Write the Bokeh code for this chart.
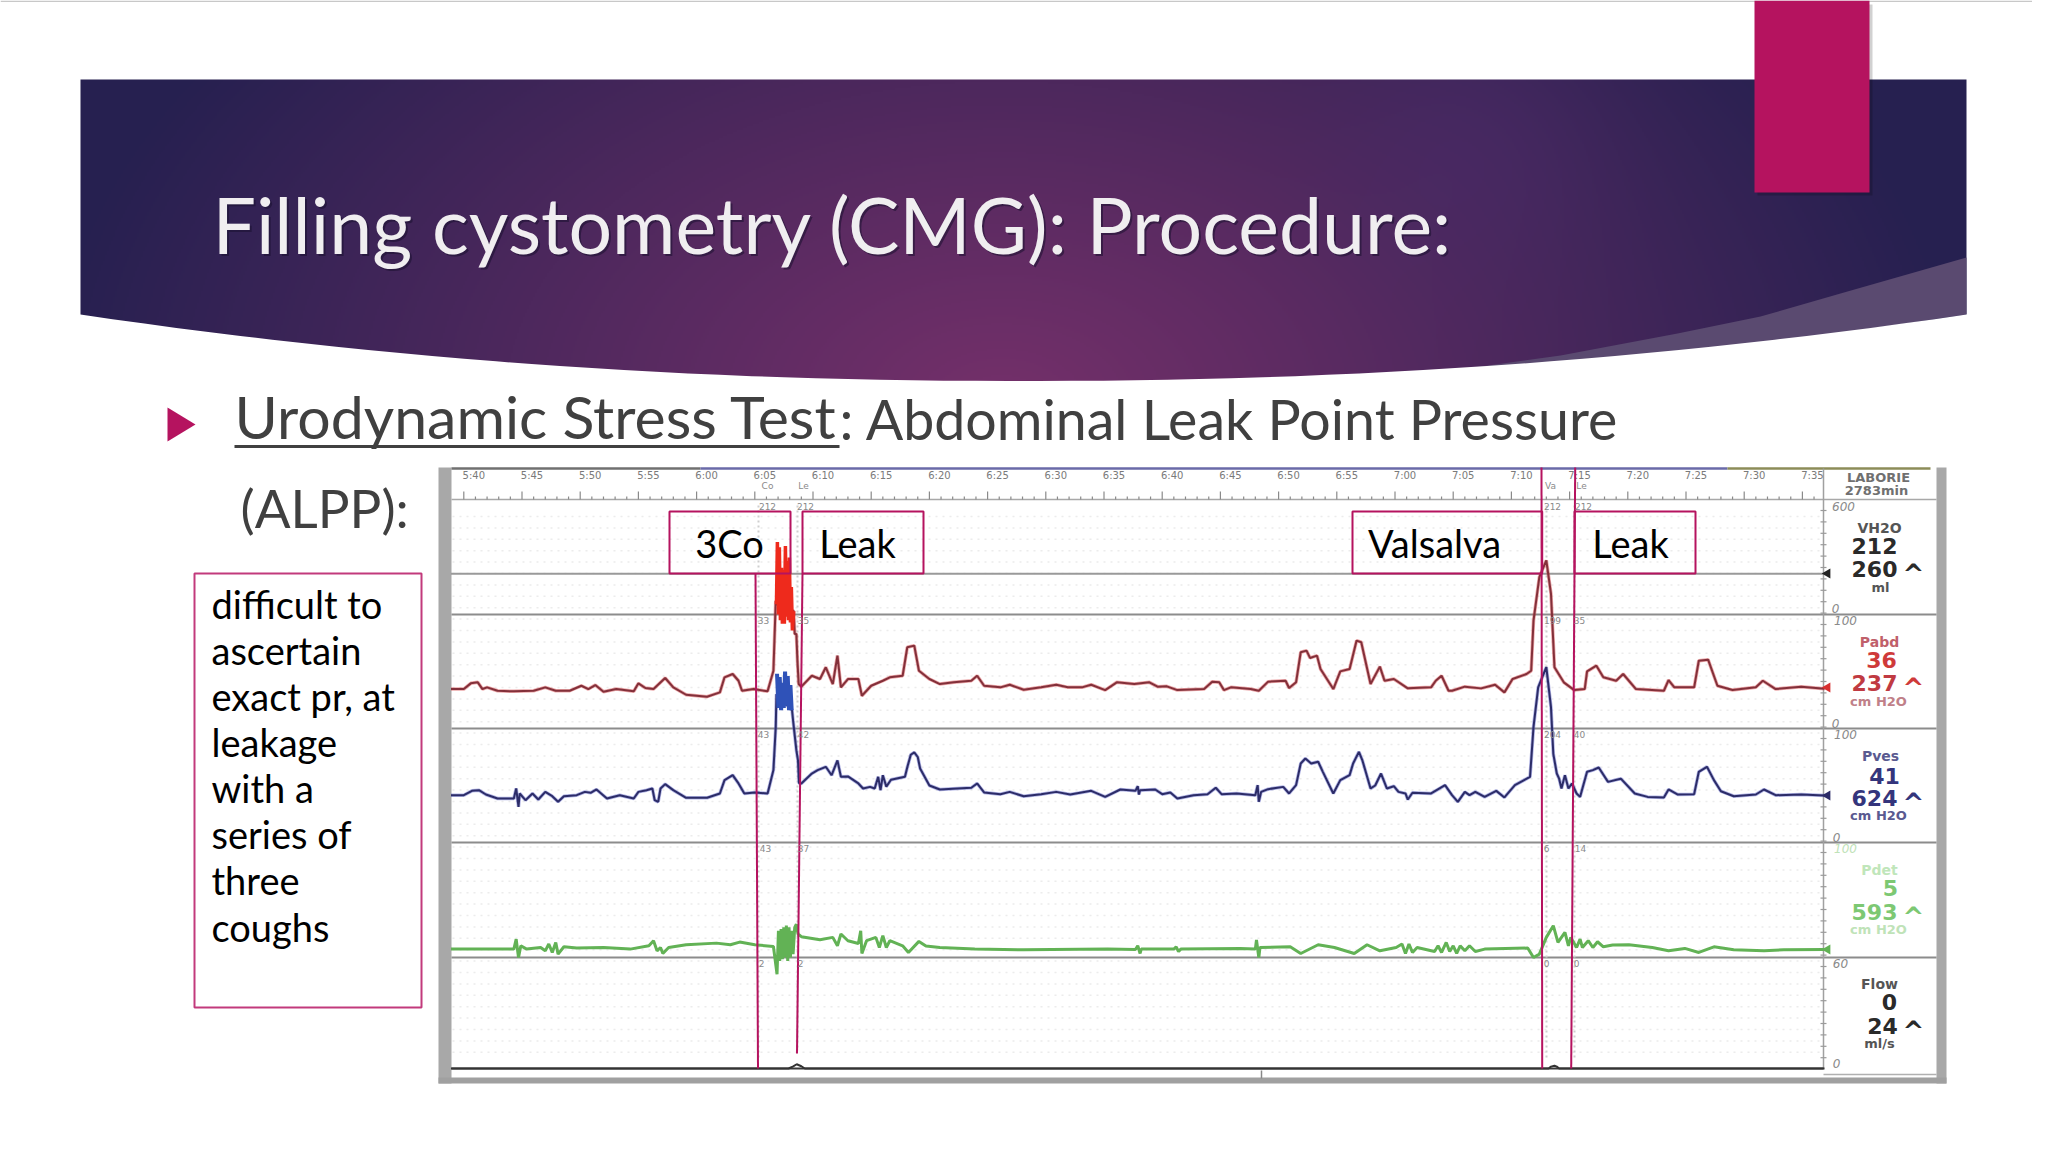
from bokeh.plotting import figure
from bokeh.models import Range1d
from bokeh.core.properties import value
from bokeh.embed import file_html
from bokeh.resources import INLINE
import numpy as np

# ---------- chart data ----------
tick_labels = ["5:40","5:45","5:50","5:55","6:00","6:05","6:10","6:15","6:20","6:25","6:30","6:35",
               "6:40","6:45","6:50","6:55","7:00","7:05","7:10","7:15","7:20","7:25","7:30","7:35"]
tick_minutes = [340,345,350,355,360,365,370,375,380,385,390,395,400,405,410,415,420,425,430,435,440,445,450,455]

vh2o_t = [338.9, 456.9]
vh2o_v = [212, 212]

pabd_t = [338.9,340.0,340.6,341.2,341.6,342.0,342.9,344.3,346.0,347.0,347.9,349.1,350.1,350.7,351.3,352.0,353.1,354.6,355.0,355.6,356.3,357.3,358.0,359.1,360.9,362.0,362.4,363.1,363.6,363.9,364.9,366.1,366.6,366.8,366.86,368.34,368.43,368.57,368.66,368.77,
 369.0,369.9,370.6,371.1,371.7,372.1,372.4,373.0,373.9,374.2,375.0,376.0,376.6,377.7,378.1,378.7,379.1,380.0,380.9,
 382.1,383.6,384.1,384.7,386.1,386.9,388.1,389.6,390.9,391.9,393.1,393.9,395.1,396.1,397.6,398.9,399.6,400.4,401.3,403.6,404.3,404.9,405.3,405.9,407.6,408.3,409.1,410.6,410.9,411.5,411.9,412.4,412.7,413.3,413.6,414.7,415.3,416.1,416.7,417.1,417.9,418.7,419.1,419.9,421.1,423.1,423.5,424.0,424.6,424.9,
 426.0,427.4,428.6,429.4,430.1,431.3,431.7,431.9,432.4,433.0,433.4,433.7,434.5,435.4,436.3,436.5,437.3,437.9,439.0,439.6,440.7,443.1,443.5,444.0,445.7,446.1,446.9,447.7,449.0,451.0,451.6,452.7,454.9,456.9]
pabd_v = [34.6,34.6,39.6,40.5,34.6,36.1,33.1,32.6,33.1,36.1,33.1,33.1,37.5,34.6,38.1,32.3,34.6,32.6,39.6,35.5,34.6,44.3,36.1,29.6,27.9,31.7,44.9,47.8,41.9,33.1,34.6,32.6,50.7,112,109,103,83,83,60,39,
 36.7,46.3,43.4,53.7,39,63.9,36.1,43.4,43.4,28.7,37.5,41.9,44.9,46.3,71.3,72.7,50.7,43.4,39,
 40.5,41.9,46.3,37.5,36.1,38.4,34,36.1,38.4,36.1,36.1,38.4,33.7,40.5,39,40.5,36.7,37,33.7,34.6,41.1,40.5,33.7,36.1,34.6,33.1,41.1,41.9,35.5,40.5,66.9,68.3,61.9,63.9,52.2,34.6,50.1,52.2,77.1,75.7,39,54.3,41.9,43.4,35.2,36.1,41.9,46.3,33.1,33.1,
 36.7,35.2,38.4,31.7,43.4,47.8,50.7,94.7,132.8,147.5,118.2,53.7,40.5,33.7,34.6,50.1,55.1,44.9,41.9,47.8,34.6,33.1,42.5,36.1,36.1,59.5,60.4,37.5,33.7,36.1,41.9,34.6,36.7,34.9]

pabd_cough_t = [366.86,366.94,367.03,367.11,367.2,367.29,367.37,367.46,367.54,367.63,367.71,367.8,367.89,367.97,368.06,368.14,368.23,368.34]
pabd_cough_v = [109,163.6,100,159,95,141,92,139,92,160,98,147,95,150,93,124,86,103]

pves_t = [338.9,340.0,340.7,341.3,341.9,342.9,344.3,344.5,344.7,344.8,345.3,345.9,346.4,347.0,347.6,348.1,348.6,349.7,350.4,350.9,351.4,352.3,353.4,354.6,355.0,355.7,356.2,356.4,356.7,356.9,357.3,358.0,359.1,360.9,362.0,362.4,363.1,363.6,364.1,365.0,366.1,366.6,366.8,366.86,368.2,368.29,368.57,368.71,368.8,
 369.0,369.9,370.4,371.1,371.6,372.1,372.4,373.0,373.9,374.3,374.9,375.3,375.6,375.8,376.0,376.3,376.7,377.9,378.1,378.4,378.7,379.0,379.2,380.0,380.9,
 382.4,383.6,384.1,384.7,386.1,386.9,388.1,389.6,390.9,392.1,393.9,395.1,396.4,397.7,397.9,398.0,398.1,399.4,400.0,400.7,401.3,402.7,403.9,404.6,405.1,406.4,408.0,408.2,408.3,408.5,409.1,410.4,410.9,411.5,411.9,412.3,412.8,413.4,413.8,414.7,415.3,416.1,416.4,416.9,417.2,417.9,418.3,418.8,419.3,419.9,420.3,420.9,421.1,421.5,423.1,424.3,424.9,
 425.4,426.0,426.4,426.9,427.7,428.7,429.4,430.3,431.6,431.7,431.9,432.3,433.0,433.4,433.6,433.9,434.1,434.3,434.6,434.9,435.2,435.6,435.9,436.1,436.5,437.0,437.5,438.3,439.4,440.6,441.7,443.1,443.5,444.3,445.7,446.1,446.8,447.4,448.0,449.1,451.0,451.7,452.7,454.9,456.9]
pves_v = [41.5,41.5,45.3,45.9,42.1,38.6,38.6,47.4,31.3,43,37.1,43,37.7,44.4,40.6,35.7,40.6,41.5,44.4,43.6,46.5,38.6,41.5,38.6,44.4,45.9,47.4,37.1,35.7,47.4,51.2,45.9,39.2,39.2,43,54.7,59.1,51.8,43,43.9,43,63.5,101.5,130,116,107,81,72,52,
 51.8,60.5,63.5,66.4,59,72,57.6,58,51.8,47.4,48.8,47.4,57.6,45.9,59,49,55,57.6,66,77,79,75,65,50,46.5,
 47.4,48,51.8,43.9,42.4,44.4,40.6,42.4,44.4,42.1,45.3,40,46.5,45.3,49.4,42.1,45.9,46.5,42.4,43.9,38.6,41.5,42.4,48,42.4,43,41.5,50.3,35.7,44.4,46.8,48.8,43,50.3,69.3,73.7,69.3,70.8,62,43,54.7,59.1,69.3,79.5,72,47.4,50,60.5,47.4,49.4,44.4,43,37.7,43.6,43,50.3,41.5,
 35.7,44.4,41.5,44.4,40,45.3,39.5,50.3,57.6,72,101.5,136,153.8,118.7,77.8,60.5,56,47.4,59,47.4,51.8,43,40,47.4,62,63.5,65.8,53.2,56,43,40,39.5,46.5,42.1,42.4,62,66.4,54.7,45,40.6,42.1,46.5,41.5,42.1,41.2]

pves_cough_t = [366.91,367.03,367.14,367.26,367.37,367.49,367.6,367.71,367.83,367.94,368.06,368.17]
pves_cough_v = [148,118,145,116,140,118,150,120,146,116,138,116]

pdet_t = [338.9,344.3,344.5,344.7,344.9,345.4,346.6,347.0,347.3,347.6,347.9,348.1,348.6,349.7,352.0,354.3,355.9,356.3,356.6,356.9,357.1,357.6,359.1,361.7,362.9,363.7,365.0,366.6,
 366.91,367.03,367.14,367.26,367.37,367.49,367.6,367.71,367.83,367.94,368.06,368.17,368.29,368.43,368.57,368.71,
 369.0,370.6,371.7,372.1,372.4,373.0,373.9,374.1,374.2,374.6,375.4,375.7,376.0,376.3,376.6,377.7,378.2,379.1,379.7,380.9,
 383.9,388.1,395.3,397.7,397.9,398.1,398.2,401.0,401.2,401.4,401.6,406.7,408.0,408.1,408.3,408.4,411.0,411.9,413.4,414.8,416.5,417.6,418.7,420.1,420.6,420.9,421.2,421.5,421.9,423.4,423.7,424.0,424.4,424.7,425.0,425.3,425.6,
 426.0,426.4,426.9,427.7,431.4,431.9,432.4,433.0,433.6,434.0,434.6,434.9,435.1,435.6,435.9,436.1,436.6,437.0,437.4,437.9,438.7,440.1,442.1,443.5,444.9,446.1,447.4,449.1,451.7,453.4,456.9]
pdet_v = [7.3,7.3,16,0,10.2,7.3,8.7,5.8,11.7,4.4,13.1,2.9,9.3,8.2,8.7,7.3,10.2,14.6,5.8,8.7,3.5,8.7,11.1,12.5,11.1,13.4,11.1,9.6,
 -14.6,23.3,-2.9,24.8,-1.5,26.2,0,27.7,-2.9,26.2,0,23.3,2.9,26.2,29,20.4,
 18.1,15.5,17.5,10.2,20.4,14.6,12.2,23.3,3.5,14.6,17.5,8.7,19,8.7,14.6,10.2,4.4,14,9.9,8.7,
 7.3,6.7,7.3,7,10.2,3.5,7.3,7.3,9.3,5.2,7.3,7.9,7.3,15.2,0,8.7,9.3,3.5,11.1,8.7,3.5,11.1,5.8,8.7,11.7,3.5,11.7,4.4,8.7,5.2,10.2,4.4,13.1,5.2,10.2,3.5,10.2,
 5.8,10.2,5.2,7.3,8.2,0,2.9,17.5,27.7,13.1,21.9,10.2,17.5,8.7,16,8.7,14.6,8.7,13.7,9.3,10.8,11.1,8.7,5.8,7.9,4.4,9.3,6.7,5.8,6.7,7]

flow_t = [338.9,367.9,368.3,368.6,369.0,369.3,433.2,433.4,433.7,433.9,434.1,456.9]
flow_v = [0,0,1.2,2.3,1.2,0,0,1.0,1.5,1.0,0,0]

# ---------- page geometry (reference pixels) ----------
W, H = 2032, 1136
X0, Y0 = 0, 0
MAGENTA = "#b5135f"
FONT = value("Lato")
PANEL = value("DejaVu Sans")
BASE_SHIFT = 0.36   # svg text sits this many em below the requested alphabetic baseline

p = figure(width=W, height=H, x_range=Range1d(X0, X0 + W), y_range=Range1d(Y0 + H, Y0),
           x_axis_location=None, y_axis_location=None, toolbar_location=None,
           output_backend="svg", min_border=0, outline_line_color=None)
p.grid.visible = False
p.background_fill_color = "white"
p.border_fill_color = "white"

PX_PER_MIN = 11.64
T_AT = lambda x: 340 + (x - 463.3) / PX_PER_MIN
p.extra_x_ranges = {"time": Range1d(T_AT(X0), T_AT(X0 + W))}
def chan(zero_y, px_per_unit):
    return Range1d((zero_y - (Y0 + H)) / px_per_unit, (zero_y - Y0) / px_per_unit)
p.extra_y_ranges = {"vh2o": chan(614, 115 / 600), "pabd": chan(728, 1.14), "pves": chan(842, 1.14),
                    "pdet": chan(957, 1.15), "flow": chan(1068, 111 / 60)}

def label(s, x, base, size, color, align="left", alpha=1.0):
    p.text(x=[x], y=[base - BASE_SHIFT * size], text=[s], text_font=FONT, text_font_size=f"{size}px",
           text_color=color, text_alpha=alpha, text_baseline="alphabetic", text_align=align)

# ---------- slide furniture ----------
p.quad(left=[X0], right=[X0 + W], top=[0], bottom=[1.5], fill_color="#c8c8c8", line_color=None)

bx0, bx1, by0, by1 = 80, 1966, 79, 382
ny, nx = (by1 - by0) // 2, (bx1 - bx0) // 2
yy, xx = np.mgrid[0:ny, 0:nx]
xp = bx0 + xx * 2.0
yp = by0 + yy * 2.0
d = np.sqrt(((xp - 1000) / 960) ** 2 + ((yp - 400) / 620) ** 2).clip(0, 1)
c0 = np.array([0x74, 0x30, 0x6a]); c1 = np.array([0x26, 0x20, 0x50])
mix = (d ** 1.05)[..., None]
rgb = c0 * (1 - mix) + c1 * mix
spot = np.exp(-(((xp - 1468) / 130) ** 2 + ((yp - 150) / 130) ** 2))[..., None]
rgb = rgb * (1 - 0.45 * spot) + np.array([0x4c, 0x2c, 0x6a]) * 0.45 * spot
img = np.zeros((ny, nx), dtype=np.uint32)
view = img.view(dtype=np.uint8).reshape((ny, nx, 4))
view[..., :3] = rgb.astype(np.uint8)
view[..., 3] = 255
p.image_rgba(image=[img], x=bx0, y=by1, dw=bx1 - bx0, dh=by1 - by0, anchor="top_left")

wedge_x = [1466, 1560, 1677, 1760, 1840, 1966, 1966, 1808, 1612]
wedge_y = [368, 355, 333, 316, 293, 257, 314, 337, 357]
p.patch(wedge_x, wedge_y, fill_color="#5a4a70", line_color=None)
cx_ = np.linspace(80, 1966, 60)
cy_ = 380.5 - 66.5 * (np.abs(cx_ - 1023) / 943) ** 2.1
p.patch([78] + cx_.tolist() + [1968, 1968, 78], [314] + cy_.tolist() + [314, 392, 392], fill_color="white", line_color=None)

p.quad(left=[1757], right=[1872], top=[4], bottom=[195], fill_color="#000000", fill_alpha=0.18, line_color=None)
p.quad(left=[1754], right=[1869], top=[0], bottom=[192], fill_color=MAGENTA, line_color=None)

label("Filling cystometry (CMG): Procedure:", 214, 253, 77, "#1a1030", alpha=0.55)
label("Filling cystometry (CMG): Procedure:", 212, 251, 77, "#f0eef0")

p.patch([167, 195, 167], [407, 424, 441], fill_color=MAGENTA, line_color=None)
label("Urodynamic Stress Test", 234, 437.5, 59, "#404040")
p.line([234, 839], [446, 446], line_color="#404040", line_width=3)
label(": Abdominal Leak Point Pressure", 839, 437.5, 55.5, "#404040")
label("(ALPP):", 240, 526.5, 53, "#404040")

# note box
p.quad(left=[194], right=[421], top=[573], bottom=[1007], fill_color="white", line_color="#c23a7c", line_width=2)
note = ["difficult to", "ascertain", "exact pr, at", "leakage", "with a", "series of", "three", "coughs"]
for i, s in enumerate(note):
    label(s, 211, 617 + i * 46.1, 38, "#000000")

# ---------- urodynamic chart frame ----------
p.quad(left=[438], right=[1946], top=[467], bottom=[1083], fill_color="white", line_color=None)
p.quad(left=[438], right=[451], top=[467], bottom=[1083], fill_color="#a8a8a8", line_color=None)
p.quad(left=[1936], right=[1946], top=[467], bottom=[1083], fill_color="#a8a8a8", line_color=None)
p.quad(left=[438], right=[1946], top=[1077], bottom=[1083], fill_color="#a0a0a0", line_color=None)
p.line([451, 700], [468, 468], line_color="#707070", line_width=2.5)
p.line([700, 1727], [468, 468], line_color="#6a6aa8", line_width=2.5)
p.line([1727, 1930], [468, 468], line_color="#8c8c58", line_width=2.5)

# faint dotted pattern of the printout
rows = [float(y) for y in np.arange(516, 1062, 11.4) if abs(y - 842) > 3]
for y in rows:
    p.line([452, 1820], [y, y], line_color="#ececec", line_width=1.5, line_dash=[2, 5])

for y, w, c in [(499, 1.5, "#a8a8a8"), (614, 2, "#8c8c8c"), (728, 2, "#8c8c8c"), (842, 2, "#8c8c8c"), (957, 2, "#8c8c8c")]:
    p.line([451, 1936], [y, y], line_color=c, line_width=w)
p.line([1823, 1823], [468, 1068], line_color="#a0a0a0", line_width=1.5)
p.line([451, 1823], [1068, 1068], line_color="#3a3a3a", line_width=2)
p.line([1823, 1936], [1074, 1074], line_color="#b0b0b0", line_width=1.5)
p.line([1261, 1261], [1070, 1078], line_color="#888888", line_width=1.5)
ry = [float(y) for y in np.arange(510, 1066, 11.4)]
p.segment(x0=[1820] * len(ry), x1=[1826] * len(ry), y0=ry, y1=ry, line_color="#9a9a9a", line_width=1.2)

# time axis
minor = [int(m) for m in np.arange(340, 457) if m % 5 != 0]
p.segment(x0=minor, x1=minor, y0=[496] * len(minor), y1=[499] * len(minor), x_range_name="time",
          line_color="#8a8a8a", line_width=1.2)
p.segment(x0=tick_minutes, x1=tick_minutes, y0=[491] * len(tick_minutes), y1=[499] * len(tick_minutes),
          x_range_name="time", line_color="#8a8a8a", line_width=1.2)
p.text(x=tick_minutes, y=[475] * len(tick_minutes), text=tick_labels, x_range_name="time", x_offset=10,
       text_font=PANEL, text_font_size="10px", text_color="#7a7a7a", text_align="center", text_baseline="middle")

# cursors' dotted guides
cursor_ticks = [(758, 505, 1060), (797, 505, 1050), (1546, 505, 1060), (1574, 505, 1060)]
for x, a, b in cursor_ticks:
    p.line([x, x], [a, b], line_color="#cfcfcf", line_width=2, line_dash=[2, 3])

# traces
p.line(vh2o_t, vh2o_v, x_range_name="time", y_range_name="vh2o", line_color="#9a9a9a", line_width=2)
p.line(pdet_t, pdet_v, x_range_name="time", y_range_name="pdet", line_color="#62b255", line_width=3)
p.line(pves_t, pves_v, x_range_name="time", y_range_name="pves", line_color="#5358c4", line_alpha=0.45, line_width=3.5)
p.line(pves_t, pves_v, x_range_name="time", y_range_name="pves", line_color="#2c2c68", line_width=2)
p.line(pves_cough_t, pves_cough_v, x_range_name="time", y_range_name="pves", line_color="#2f52b8", line_width=4)
p.line(pabd_t, pabd_v, x_range_name="time", y_range_name="pabd", line_color="#d23c40", line_alpha=0.45, line_width=3.5)
p.line(pabd_t, pabd_v, x_range_name="time", y_range_name="pabd", line_color="#83303a", line_width=2)
p.line(pabd_cough_t, pabd_cough_v, x_range_name="time", y_range_name="pabd", line_color="#ee2a1c", line_width=3.5)
p.line(flow_t, flow_v, x_range_name="time", y_range_name="flow", line_color="#333333", line_width=2)

# pen markers
p.scatter(x=[1827, 1827, 1827, 1827], y=[573, 687, 795, 949], marker="triangle", angle=[1.57] * 4, size=10,
          fill_color=["#222222", "#d83030", "#2c2c68", "#62b255"], line_color=None)

# cursors
p.line([755, 757.5], [573, 1068], line_color=MAGENTA, line_width=2)
p.line([802, 796.5], [573, 1053], line_color=MAGENTA, line_width=2)
p.line([1541, 1541.7], [467, 1068], line_color=MAGENTA, line_width=2)
p.line([1574.7, 1570.7], [467, 1068], line_color=MAGENTA, line_width=2)

marks = [("Co", 767, 485), ("Le", 803, 485), ("212", 767, 506), ("212", 805, 506), ("33", 763, 620), ("35", 803, 620),
         ("43", 763, 734), ("42", 803, 734), ("43", 765, 848), ("37", 803, 848), ("2", 761, 963), ("2", 800, 963),
         ("Va", 1550, 485), ("Le", 1581, 485), ("212", 1552, 506), ("212", 1583, 506), ("199", 1552, 620), ("35", 1579, 620),
         ("204", 1552, 734), ("40", 1579, 734), ("6", 1546, 848), ("14", 1580, 848), ("0", 1546, 963), ("0", 1576, 963)]
p.text(x=[m[1] for m in marks], y=[m[2] for m in marks], text=[m[0] for m in marks], text_font=PANEL,
       text_font_size="9px", text_color="#8a8a8a", text_align="center", text_baseline="middle")

# callout boxes (transparent: the traces show through)
boxes = [("3Co", 669, 790, 729), ("Leak", 802, 923, 857), ("Valsalva", 1352, 1541.7, 1434), ("Leak", 1574, 1695, 1630)]
for s, l, r, cx in boxes:
    p.quad(left=[l], right=[r], top=[511], bottom=[573], fill_alpha=0, line_color=MAGENTA, line_width=2)
    label(s, cx, 556, 38, "#000000", align="center")

# right hand readout
def ro(s, x, y, size, color, bold=True, italic=False):
    p.text(x=[x], y=[y], text=[s], text_font=PANEL, text_font_size=size, text_color=color, text_align="center",
           text_baseline="middle", text_font_style=("bold" if bold else ("italic" if italic else "normal")))
GREY, RED, NAVY, GRN, BLK = "#6a6a6a", "#cf3a3a", "#34357c", "#7dc873", "#2a2a2a"
ro("LABORIE", 1878, 477, "13px", "#707070"); ro("2783min", 1876, 490, "13px", "#707070")
for s, x, y in [("600", 1843, 506), ("0", 1835, 608), ("100", 1845, 620), ("0", 1835, 723), ("100", 1845, 734),
                ("0", 1836, 837), ("60", 1840, 963), ("0", 1836, 1063)]:
    ro(s, x, y, "12px", "#8a8a8a", bold=False, italic=True)
ro("100", 1845, 848, "12px", "#bfe3b8", bold=False, italic=True)
ro("VH2O", 1879, 527, "14px", "#555555"); ro("212", 1874, 545, "22px", BLK); ro("260", 1874, 568, "22px", BLK)
ro("^", 1913, 573, "26px", BLK); ro("ml", 1880, 587, "13px", "#555555")
ro("Pabd", 1879, 641, "14px", "#c0606a"); ro("36", 1881, 659, "22px", RED); ro("237", 1874, 682, "22px", "#c03a42")
ro("^", 1913, 687, "26px", RED); ro("cm H2O", 1878, 701, "13px", "#c08088")
ro("Pves", 1880, 755, "14px", "#5a5a90"); ro("41", 1884, 775, "22px", NAVY); ro("624", 1874, 797, "22px", NAVY)
ro("^", 1913, 802, "26px", NAVY); ro("cm H2O", 1878, 815, "13px", "#5a5a90")
ro("Pdet", 1879, 869, "14px", "#c0e6ba"); ro("5", 1890, 887, "22px", GRN); ro("593", 1874, 911, "22px", GRN)
ro("^", 1913, 916, "26px", GRN); ro("cm H2O", 1878, 929, "13px", "#bfe3b8")
ro("Flow", 1879, 983, "14px", "#555555"); ro("0", 1889, 1001, "22px", BLK); ro("24", 1882, 1025, "22px", BLK)
ro("^", 1913, 1030, "26px", BLK); ro("ml/s", 1879, 1043, "13px", "#555555")

open("out.html", "w").write(file_html(p, INLINE))
